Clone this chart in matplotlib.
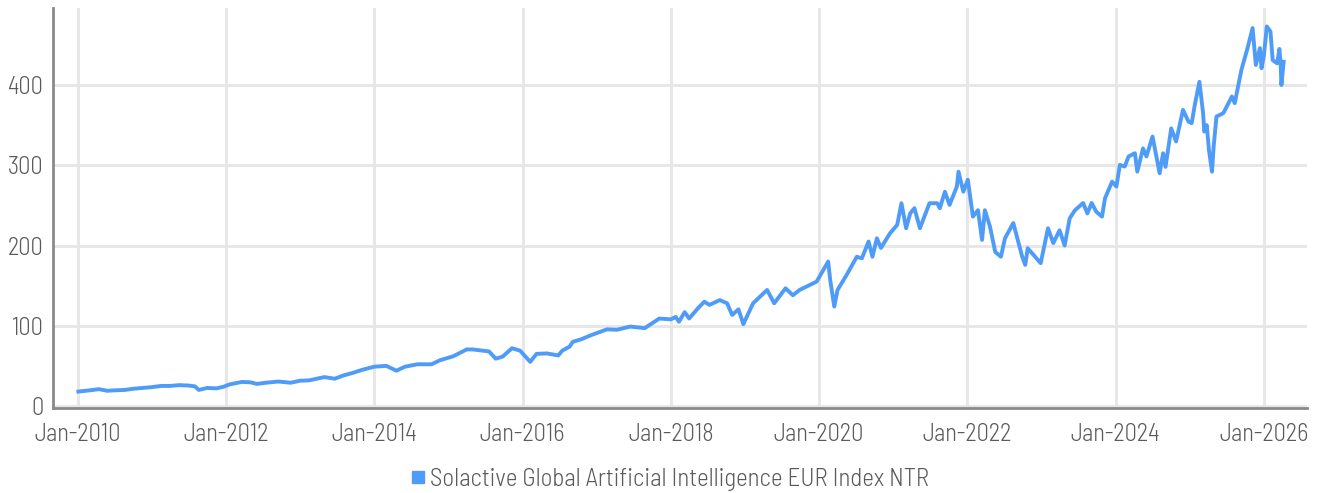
import pandas as pd
import matplotlib.pyplot as plt
import matplotlib.dates as mdates
from matplotlib.lines import Line2D

plt.rcParams['font.family'] = ['Barlow Semi Condensed', 'Barlow', 'DejaVu Sans']
plt.rcParams['font.weight'] = 300

# values
dates = [
    "2010-01-04", "2010-03-01", "2010-04-15", "2010-05-25", "2010-07-01", "2010-08-20",
    "2010-10-01", "2010-11-15", "2011-01-01", "2011-02-15", "2011-04-01", "2011-05-15",
    "2011-07-01", "2011-08-01", "2011-08-20", "2011-10-01", "2011-11-15", "2011-12-20",
    "2012-01-20", "2012-03-20", "2012-05-01", "2012-06-01", "2012-07-15", "2012-09-15",
    "2012-11-15", "2012-12-31", "2013-02-15", "2013-04-01", "2013-05-01", "2013-06-20",
    "2013-08-01", "2013-09-20", "2013-11-01", "2014-01-01", "2014-03-01", "2014-04-20",
    "2014-06-01", "2014-08-01", "2014-10-10", "2014-11-20", "2015-01-25", "2015-04-01",
    "2015-05-01", "2015-06-20", "2015-07-20", "2015-08-22", "2015-09-25", "2015-11-10",
    "2015-12-20", "2016-02-08", "2016-03-10", "2016-05-01", "2016-06-25", "2016-07-15",
    "2016-08-20", "2016-09-05", "2016-10-15", "2016-12-01", "2017-02-20", "2017-04-10",
    "2017-06-15", "2017-08-25", "2017-11-05", "2018-01-01", "2018-01-25", "2018-02-10",
    "2018-03-10", "2018-04-01", "2018-05-15", "2018-06-15", "2018-07-10", "2018-08-30",
    "2018-10-05", "2018-10-30", "2018-11-30", "2018-12-24", "2019-02-10", "2019-04-20",
    "2019-05-25", "2019-07-20", "2019-08-25", "2019-09-27", "2019-12-20", "2020-02-15",
    "2020-02-25", "2020-03-16", "2020-04-01", "2020-05-15", "2020-07-05", "2020-07-30",
    "2020-09-01", "2020-09-20", "2020-10-12", "2020-11-01", "2020-12-15", "2021-01-20",
    "2021-02-10", "2021-03-05", "2021-03-25", "2021-04-15", "2021-05-12", "2021-06-28",
    "2021-08-05", "2021-08-18", "2021-09-12", "2021-10-05", "2021-11-10", "2021-11-18",
    "2021-12-12", "2022-01-03", "2022-01-28", "2022-02-22", "2022-03-14", "2022-03-28",
    "2022-04-22", "2022-05-18", "2022-06-15", "2022-07-05", "2022-08-15", "2022-09-28",
    "2022-10-13", "2022-10-25", "2022-12-28", "2023-02-02", "2023-02-28", "2023-03-31",
    "2023-04-25", "2023-05-20", "2023-06-15", "2023-07-25", "2023-08-15", "2023-09-05",
    "2023-09-28", "2023-10-26", "2023-11-10", "2023-12-15",
    "2024-01-05", "2024-01-22", "2024-02-15", "2024-03-05", "2024-04-05", "2024-04-17",
    "2024-05-15", "2024-06-01", "2024-07-01", "2024-08-05", "2024-08-22", "2024-09-03",
    "2024-10-01", "2024-10-25", "2024-11-28", "2024-12-25", "2025-01-10", "2025-01-25",
    "2025-02-17", "2025-03-07", "2025-03-13", "2025-03-25", "2025-04-05", "2025-04-20",
    "2025-04-28", "2025-05-12", "2025-06-15", "2025-07-27", "2025-08-10", "2025-09-12",
    "2025-10-12", "2025-11-06", "2025-11-22", "2025-12-12", "2025-12-20", "2026-01-01",
    "2026-01-15", "2026-02-02", "2026-02-13", "2026-03-07", "2026-03-18", "2026-03-24",
    "2026-03-28", "2026-04-08",
]
values = [
    18, 19.5, 21, 19, 19.5, 20,
    21.5, 22.5, 23.5, 25, 25, 26,
    25.5, 24.5, 20, 22.5, 22, 24,
    27, 30, 29.5, 27.5, 29, 30.5,
    29, 31.5, 32, 34.5, 36, 34,
    38, 41.5, 45, 49, 50, 44,
    49, 52, 52, 57, 62, 70.5,
    70.5, 69, 68, 59, 61.5, 72,
    69, 55, 65, 65.5, 63, 69,
    74, 80, 83, 88, 95.5, 95,
    99, 97, 109, 108, 111, 105,
    117, 109, 122, 130, 126, 132,
    128, 113.5, 120.5, 102, 128, 144.6,
    128, 146.7, 138, 144.6, 155, 180,
    157, 124, 144.6, 163, 186, 184,
    205, 186, 209, 197, 215, 225.7,
    252.7, 221.5, 240, 246.5, 221.5, 252.7,
    252.7, 246.5, 267, 250.6, 273.5, 292,
    267, 282, 236, 244, 207, 244,
    223.6, 192, 186, 209, 228, 186,
    175.8, 196.6, 178, 221.5, 203, 219,
    200, 234, 244, 253, 240, 253,
    242, 236, 259, 279.7,
    273.5, 300.5, 298.4, 311, 315, 292,
    321, 311, 335.8, 290, 315, 298,
    346, 329.6, 369, 354.5, 352.5, 375,
    404, 365, 342, 350, 319, 292,
    323, 360.7, 365, 385.7, 377.4, 419,
    446, 471, 425, 446, 421, 437.6,
    473, 466.7, 431, 427, 445, 427,
    400, 429,
]
series_name = "Solactive Global Artificial Intelligence EUR Index NTR"
y_ticks = [0, 100, 200, 300, 400]

line_color = "#4F9BF8"
text_color = "#5a5a5a"

x = pd.to_datetime(dates)

fig = plt.figure(figsize=(13.19, 4.93), dpi=100)
ax = fig.add_axes([0.0402, 0.1724, 0.9507, 0.8114])

ax.plot(x, values, color=line_color, lw=2.8, solid_joinstyle='round')

ax.set_ylim(-2.5, 496)
ax.set_xlim(pd.Timestamp("2009-09-01"), pd.Timestamp("2026-08-01"))
ax.set_yticks(y_ticks)
ax.xaxis.set_major_locator(mdates.YearLocator(2, month=1, day=1))
ax.xaxis.set_major_formatter(mdates.DateFormatter("Jan-%Y"))

ax.grid(True, color="#e6e6e6", lw=2)
ax.set_axisbelow(True)
for s in ["top", "right"]:
    ax.spines[s].set_visible(False)
for s in ["left", "bottom"]:
    ax.spines[s].set_color("#8a8a8a")
    ax.spines[s].set_linewidth(2)

ax.tick_params(axis='both', length=0, labelsize=17.6, labelcolor=text_color)
ax.tick_params(axis='x', pad=11)
ax.tick_params(axis='y', pad=7)

handle = Line2D([], [], ls='none', marker='s', markersize=8, color=line_color)
fig.legend([handle], [series_name], loc='center', bbox_to_anchor=(0.507, 0.028),
           frameon=False, fontsize=18, labelcolor=text_color,
           handletextpad=0.1, handlelength=0.8)

fig.savefig("out.png", dpi=100)
